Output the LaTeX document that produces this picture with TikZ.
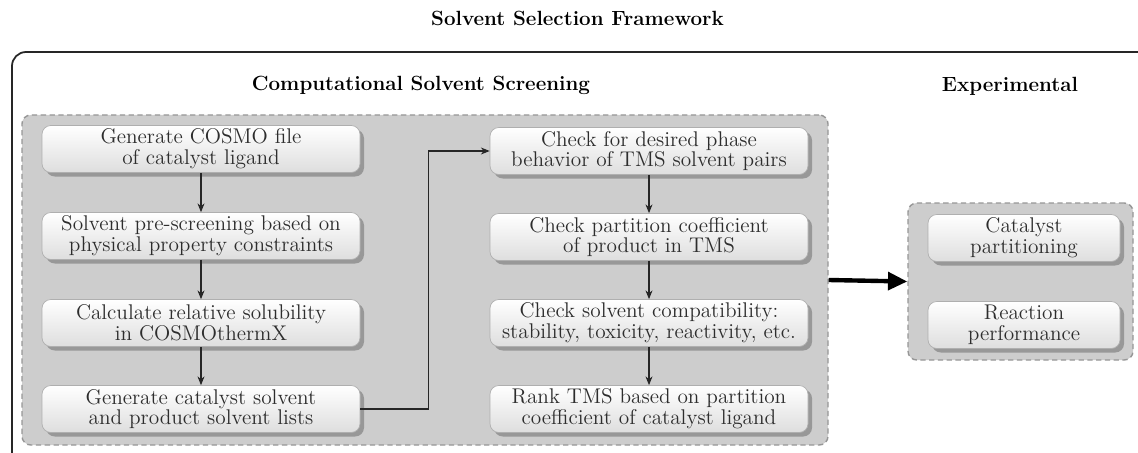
\documentclass[tikz,border=0pt]{standalone}
\usepackage{tikz}
\usetikzlibrary{positioning, calc, arrows.meta, shadows}
\definecolor{panelGray}{RGB}{205, 205, 205}
\definecolor{panelEdge}{RGB}{150, 150, 150}
\definecolor{boxEdge}{RGB}{175, 175, 175}
\definecolor{boxBottom}{RGB}{222, 222, 222}
\definecolor{shadowGray}{RGB}{152, 152, 152}
\definecolor{textDark}{RGB}{45, 45, 45}
\newcommand{\boxfont}{\fontsize{12.1pt}{11.8pt}\selectfont}
\newcommand{\headfont}{\fontsize{11.7pt}{12pt}\selectfont\bfseries}
\tikzset{
  panel/.style={rectangle, draw=panelEdge, fill=panelGray, thick,
                dash pattern=on 3pt off 2pt, rounded corners=5pt},
  stepbox/.style={rectangle, draw=boxEdge, top color=white, bottom color=boxBottom,
                  minimum width=6.36cm, minimum height=0.94cm, inner ysep=1pt,
                  align=center, rounded corners=5pt, font=\boxfont, text=textDark,
                  drop shadow={shadow xshift=0.08cm, shadow yshift=-0.08cm,
                               fill=shadowGray, opacity=1}},
  expbox/.style={stepbox, minimum width=3.84cm},
  heading/.style={font=\headfont, text=black},
  flow/.style={->, >={Stealth[length=5pt, width=4pt]}, semithick, black!85},
}

\begin{document}
\begin{tikzpicture}
    \useasboundingbox (0,0) rectangle (22.76,-9.04);
    \clip (0,0) rectangle (22.76,-9.04);

    % Top: title and outer frame
    \node[heading] (title) at (11.55,-0.36) {Solvent Selection Framework};
    \draw[line width=1pt, black!85, rounded corners=8pt] (0.24,-10) -- (0.24,-1.04) -- (24,-1.04);

    \node[heading] (compT) at (8.42,-1.70) {Computational Solvent Screening};
    \node[heading] (expT) at (20.20,-1.72) {Experimental};

    % Panels
    \node[panel, minimum width=16.12cm, minimum height=6.60cm] (comp) at (8.50,-5.60) {};
    \node[panel, minimum width=4.50cm, minimum height=3.14cm] (expt) at (20.41,-5.63) {};

    % Left column
    \node[stepbox] (L1) at (4.02,-2.98) {Generate COSMO file\\of catalyst ligand};
    \node[stepbox] (L2) at (4.02,-4.72) {Solvent pre-screening based on\\physical property constraints};
    \node[stepbox] (L3) at (4.02,-6.46) {Calculate relative solubility\\in COSMOthermX};
    \node[stepbox] (L4) at (4.02,-8.18) {Generate catalyst solvent\\and product solvent lists};

    % Right column
    \node[stepbox] (R1) at (12.98,-3.02) {Check for desired phase\\behavior of TMS solvent pairs};
    \node[stepbox] (R2) at (12.98,-4.74) {Check partition coefficient\\of product in TMS};
    \node[stepbox] (R3) at (12.98,-6.46) {Check solvent compatibility:\\stability, toxicity, reactivity, etc.};
    \node[stepbox] (R4) at (12.98,-8.18) {Rank TMS based on partition\\coefficient of catalyst ligand};

    % Experimental
    \node[expbox] (E1) at (20.48,-4.76) {Catalyst\\partitioning};
    \node[expbox] (E2) at (20.48,-6.50) {Reaction\\performance};

    % Connections
    \draw[flow] (L1) -- (L2);
    \draw[flow] (L2) -- (L3);
    \draw[flow] (L3) -- (L4);
    \draw[flow] (L4.east) -- ++(1.36,0) |- (R1.west);
    \draw[flow] (R1) -- (R2);
    \draw[flow] (R2) -- (R3);
    \draw[flow] (R3) -- (R4);
    \draw[-{Triangle[length=11pt, width=10pt]}, line width=2.5pt] (comp.east) -- (expt.west);
  \end{tikzpicture}
\end{document}
